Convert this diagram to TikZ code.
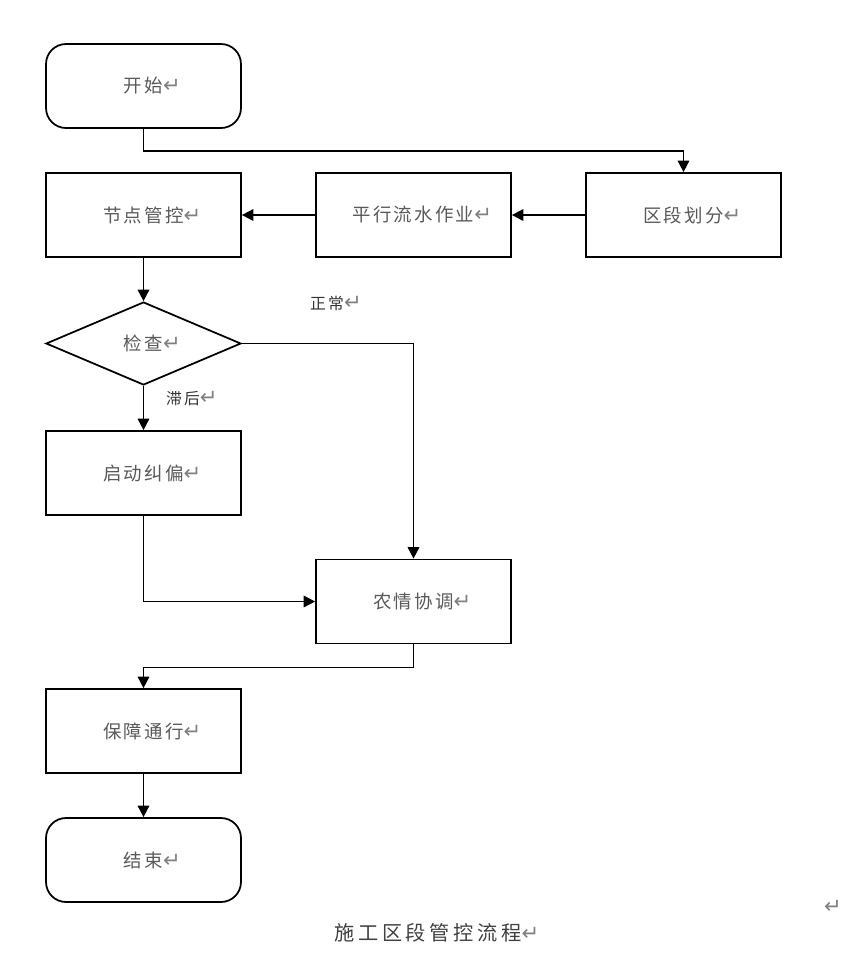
\documentclass[tikz,border=0pt]{standalone}
\usepackage{fontspec}
\setmainfont{Noto Sans CJK SC}
\newfontfamily\symfont{DejaVu Sans}
\usepackage{tikz}
\usetikzlibrary{positioning}
\usetikzlibrary{shapes.geometric, arrows.meta}
\newcommand{\pmark}{\rlap{\symfont\color{gray}\large ↵}}

\begin{document}
\begin{tikzpicture}[x=0.02cm, y=-0.02cm, line width=1pt,
    >={Triangle[length=6.5pt, width=6.5pt]},
    box/.style={draw, rectangle, minimum width=3.9cm, minimum height=1.68cm,
        text=black!65, font=\fontsize{10.5}{12}\selectfont\addfontfeature{LetterSpace=12}},
    roundbox/.style={box, rounded corners=0.4cm},
    checkbox/.style={box, diamond, aspect=2.35, inner sep=0pt, minimum height=1.66cm},
    lbl/.style={text=black!80, font=\fontsize{9}{11}\selectfont\addfontfeature{LetterSpace=15}}]
    \useasboundingbox (0,0) rectangle (864,958);

    % Cajas
    \node[roundbox] (start)  at (143.5,86)  {开始\pmark};
    \node[box]      (ctrl)   at (143.5,215) {节点管控\pmark};
    \node[box]      (flow)   at (413.5,215) {平行流水作业\pmark};
    \node[box]      (split)  at (683.5,215) {区段划分\pmark};
    \node[checkbox] (check)  at (143.5,343.5) {检查\pmark};
    \node[box]      (fix)    at (143.5,473) {启动纠偏\pmark};
    \node[box]      (coord)  at (413.5,601.5) {农情协调\pmark};
    \node[box]      (pass)   at (143.5,731) {保障通行\pmark};
    \node[roundbox] (finish) at (143.5,860) {结束\pmark};

    % Etiquetas
    \node[lbl] (normal) at (327,303) {正常\pmark};
    \node[lbl] (late)   at (183,399) {滞后\pmark};

    % Flechas
    \draw[->] (start.south) -- ++(0,22) -| (split.north);
    \draw[->] (split.west) -- (flow.east);
    \draw[->] (flow.west) -- (ctrl.east);
    \draw[->] (ctrl.south) -- (check.north);
    \draw[->] (check.east) -| (coord.north);
    \draw[->] (check.south) -- (fix.north);
    \draw[->] (fix.south) |- (coord.west);
    \draw[->] (coord.south) -- ++(0,23) -| (pass.north);
    \draw[->] (pass.south) -- (finish.north);

    % Titulo
    \node[text=black!75, font=\fontsize{11.5}{13}\selectfont\addfontfeature{LetterSpace=18}] (title) at (428,933) {施工区段管控流程\pmark};
    \node (endmark) at (833,907) {\symfont\color{gray}\large ↵};
\end{tikzpicture}
\end{document}
